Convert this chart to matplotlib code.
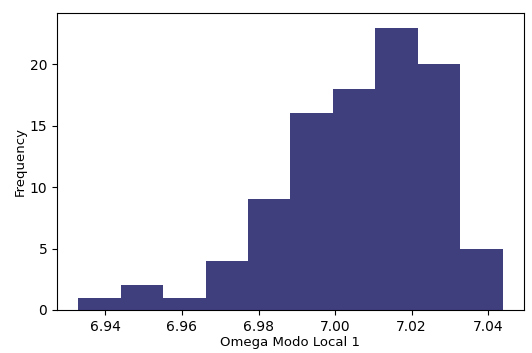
import matplotlib
matplotlib.use("Agg")
import matplotlib.pyplot as plt
import numpy as np

# histogram: 10 bins
bin_start = 6.9329
bin_end = 7.0438
counts = [1, 2, 1, 4, 9, 16, 18, 23, 20, 5]

edges = np.linspace(bin_start, bin_end, len(counts) + 1)
centers = (edges[:-1] + edges[1:]) / 2

fig = plt.figure(figsize=(5.32, 3.53), dpi=100)
ax = fig.add_axes([0.107, 0.122, 0.878, 0.84])
ax.hist(centers, bins=edges, weights=counts, color="#403f7e")
ax.set_xticks([6.94, 6.96, 6.98, 7.00, 7.02, 7.04])
ax.set_xticklabels(["6.94", "6.96", "6.98", "7.00", "7.02", "7.04"])
ax.set_yticks([0, 5, 10, 15, 20])
ax.tick_params(labelsize=10)
ax.set_xlabel("Omega Modo Local 1", fontsize=9.5, labelpad=2)
ax.set_ylabel("Frequency", fontsize=9.5, labelpad=2)

plt.savefig("out.png", dpi=100)
